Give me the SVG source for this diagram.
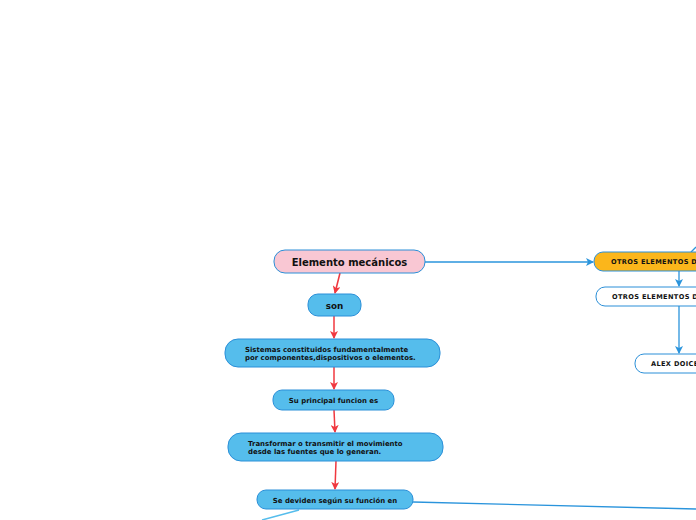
<svg xmlns="http://www.w3.org/2000/svg" width="696" height="520" viewBox="0 0 696 520">
<defs>
<marker id="ar" markerWidth="8" markerHeight="8" refX="7" refY="4" orient="auto" markerUnits="userSpaceOnUse"><path d="M0,0 L8,4 L0,8 L2,4 Z" fill="#f0383f"/></marker>
<marker id="ab" markerWidth="8" markerHeight="8" refX="7" refY="4" orient="auto" markerUnits="userSpaceOnUse"><path d="M0,0 L8,4 L0,8 L2,4 Z" fill="#2a94dc"/></marker>
<style>
.n{stroke:#2a8fd8;stroke-width:1}
.b{fill:#55bdec}
.t{font-family:"DejaVu Sans",Verdana,sans-serif;font-weight:bold;fill:#111}
.u{font-size:6.6px;letter-spacing:0.35px}
.r{stroke:#f0383f;stroke-width:1.5;fill:none}
.bl{stroke:#2a94dc;stroke-width:1.3;fill:none}
</style>
</defs>
<rect width="696" height="520" fill="#fff"/>
<g id="connectors">
<path class="r" d="M340,273 L335,293" marker-end="url(#ar)"/>
<path class="r" d="M334,316 L334,338" marker-end="url(#ar)"/>
<path class="r" d="M334,367 L334,389" marker-end="url(#ar)"/>
<path class="r" d="M334,410 L335,432" marker-end="url(#ar)"/>
<path class="r" d="M336,461 L335,489" marker-end="url(#ar)"/>
<path class="bl" d="M425,262 L593,262" marker-end="url(#ab)"/>
<path class="bl" d="M679,271 L679,286" marker-end="url(#ab)"/>
<path class="bl" d="M679,306 L679,353" marker-end="url(#ab)"/>
<path class="bl" d="M413,502 L696,509"/>
<path d="M299,510 L262,520" stroke="#55bdec" stroke-width="1.5" fill="none"/>
<path class="bl" d="M691,252 L696,247"/>
</g>
<g id="n1"><rect class="n" x="274" y="250" width="151" height="23" rx="11" fill="#f9c7d3"/><text class="t" x="349.5" y="265.5" font-size="10" text-anchor="middle">Elemento mecánicos</text></g>
<g id="n2"><rect class="n b" x="308" y="294" width="53" height="22" rx="10"/><text class="t" x="334.5" y="308.5" font-size="8.8" text-anchor="middle">son</text></g>
<g id="n3"><rect class="n b" x="225" y="339" width="215" height="28" rx="13"/><text class="t" font-size="6.95"><tspan x="245" y="351.5">Sistemas constituidos fundamentalmente</tspan><tspan x="245" y="360">por componentes,dispositivos o elementos.</tspan></text></g>
<g id="n4"><rect class="n b" x="273" y="390" width="121" height="20" rx="9"/><text class="t" x="333.5" y="402.5" font-size="6.95" text-anchor="middle">Su principal funcion es</text></g>
<g id="n5"><rect class="n b" x="228" y="433" width="215" height="28" rx="13"/><text class="t" font-size="6.95"><tspan x="248" y="445.5">Transformar o transmitir el movimiento</tspan><tspan x="248" y="454">desde las fuentes que lo generan.</tspan></text></g>
<g id="n6"><rect class="n b" x="257" y="490" width="156" height="19" rx="9"/><text class="t" x="335" y="502.5" font-size="6.95" text-anchor="middle">Se deviden según su función en</text></g>
<g id="n7"><rect class="n" x="594" y="252" width="150" height="19" rx="9" fill="#fbb61b"/><text class="t u" x="611" y="264.3">OTROS ELEMENTOS DE MAQUINAS</text></g>
<g id="n8"><rect class="n" x="596" y="287" width="150" height="19" rx="9" fill="#fff"/><text class="t u" x="612" y="299.3">OTROS ELEMENTOS DE MAQUINAS</text></g>
<g id="n9"><rect class="n" x="635" y="354" width="100" height="19" rx="9" fill="#fff"/><text class="t u" x="651" y="366.3">ALEX DOICELA</text></g>
</svg>
